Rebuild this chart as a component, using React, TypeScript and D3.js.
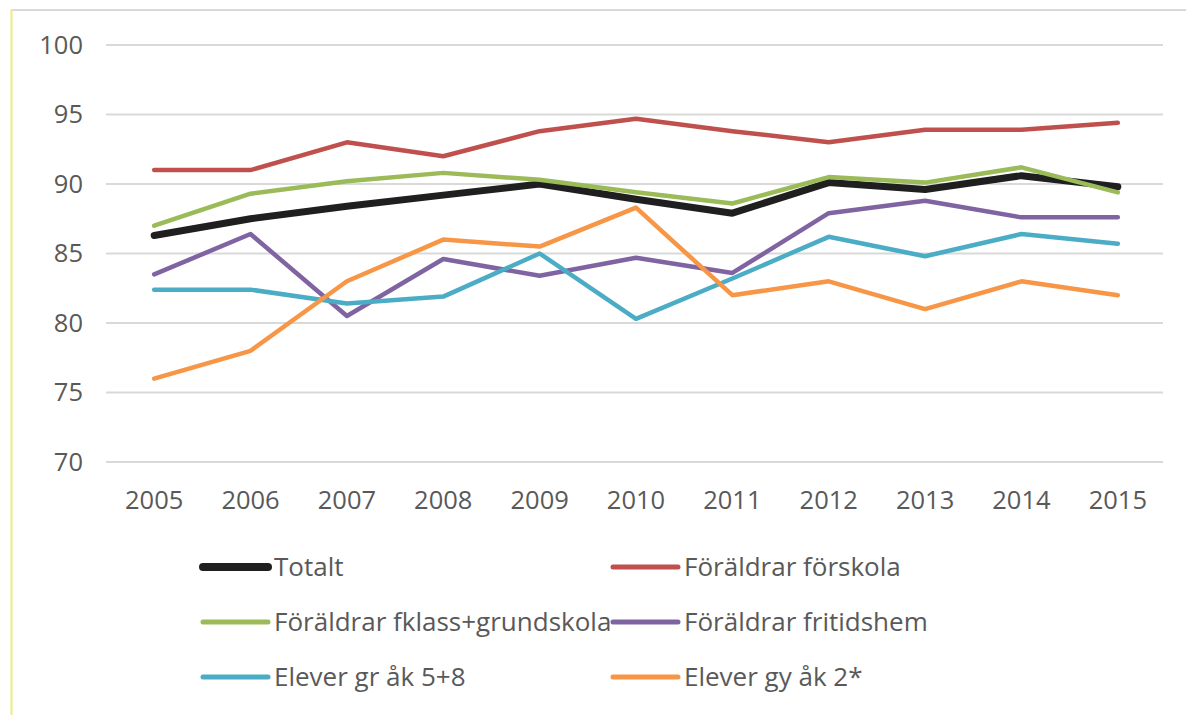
import React from "react";
import * as d3 from "d3";

const years = ["2005","2006","2007","2008","2009","2010","2011","2012","2013","2014","2015"];
const yTicks = [70, 75, 80, 85, 90, 95, 100];

const totalt = [86.3, 87.5, 88.4, 89.2, 90.0, 88.9, 87.9, 90.1, 89.6, 90.6, 89.8];
const forskola = [91.0, 91.0, 93.0, 92.0, 93.8, 94.7, 93.8, 93.0, 93.9, 93.9, 94.4];
const grundskola = [87.0, 89.3, 90.2, 90.8, 90.3, 89.4, 88.6, 90.5, 90.1, 91.2, 89.4];
const fritidshem = [83.5, 86.4, 80.5, 84.6, 83.4, 84.7, 83.6, 87.9, 88.8, 87.6, 87.6];
const eleverGr = [82.4, 82.4, 81.4, 81.9, 85.0, 80.3, 83.2, 86.2, 84.8, 86.4, 85.7];
const eleverGy = [76.0, 78.0, 83.0, 86.0, 85.5, 88.3, 82.0, 83.0, 81.0, 83.0, 82.0];

const seriesNames = [
  "Totalt",
  "Föräldrar förskola",
  "Föräldrar fklass+grundskola",
  "Föräldrar fritidshem",
  "Elever gr åk 5+8",
  "Elever gy åk 2*",
];
const seriesValues = [totalt, forskola, grundskola, fritidshem, eleverGr, eleverGy];
const seriesColors = ["#1f1f1f", "#c0504d", "#9bbb59", "#8064a2", "#4bacc6", "#f79646"];

const font = "'Open Sans', 'Noto Sans', sans-serif";
const textColor = "#595959";

export default function App() {
  const W = 1186, H = 715;
  const x = d3.scaleBand<string>().domain(years).range([106, 1166]);
  const y = d3.scaleLinear().domain([70, 100]).range([462, 45]);
  const line = d3
    .line<number>()
    .x((_, i) => (x(years[i]) as number) + x.bandwidth() / 2)
    .y((d) => y(d));

  const drawOrder = [1, 3, 4, 5, 0, 2];

  const legendCols = [203, 613];
  const legendRows = [567, 622, 677];

  return (
    <svg
      width={W}
      height={H}
      style={{ position: "absolute", left: 0, top: 0, background: "#fff" }}
      fontFamily={font}
    >
      <rect x={0} y={0} width={W} height={H} fill="#fff" />
      <line x1={11} x2={W} y1={10} y2={10} stroke="#d9d9d9" strokeWidth={2} />
      <line x1={11.5} x2={11.5} y1={9} y2={H} stroke="#ecec7a" strokeWidth={2} />

      {yTicks.map((t) => (
        <g key={t}>
          <line x1={106} x2={1163} y1={y(t)} y2={y(t)} stroke="#d9d9d9" strokeWidth={2} />
          <text
            x={83}
            y={y(t)}
            dy="0.35em"
            textAnchor="end"
            fontSize={25.5}
            fill={textColor}
          >
            {t}
          </text>
        </g>
      ))}

      {years.map((yr) => (
        <text
          key={yr}
          x={(x(yr) as number) + x.bandwidth() / 2}
          y={500}
          dy="0.35em"
          textAnchor="middle"
          fontSize={25.5}
          fill={textColor}
        >
          {yr}
        </text>
      ))}

      {drawOrder.map((si) => (
        <path
          key={si}
          d={line(seriesValues[si]) || ""}
          fill="none"
          stroke={seriesColors[si]}
          strokeWidth={si === 0 ? 7 : 4.5}
          strokeLinejoin="round"
          strokeLinecap="round"
        />
      ))}

      {seriesNames.map((name, i) => {
        const cx = legendCols[i % 2];
        const cy = legendRows[Math.floor(i / 2)];
        return (
          <g key={name}>
            <line
              x1={cx}
              x2={cx + 65}
              y1={cy}
              y2={cy}
              stroke={seriesColors[i]}
              strokeWidth={i === 0 ? 8 : 5}
              strokeLinecap="round"
            />
            <text x={cx + 71} y={cy} dy="0.35em" fontSize={26} fill={textColor}>
              {name}
            </text>
          </g>
        );
      })}
    </svg>
  );
}
